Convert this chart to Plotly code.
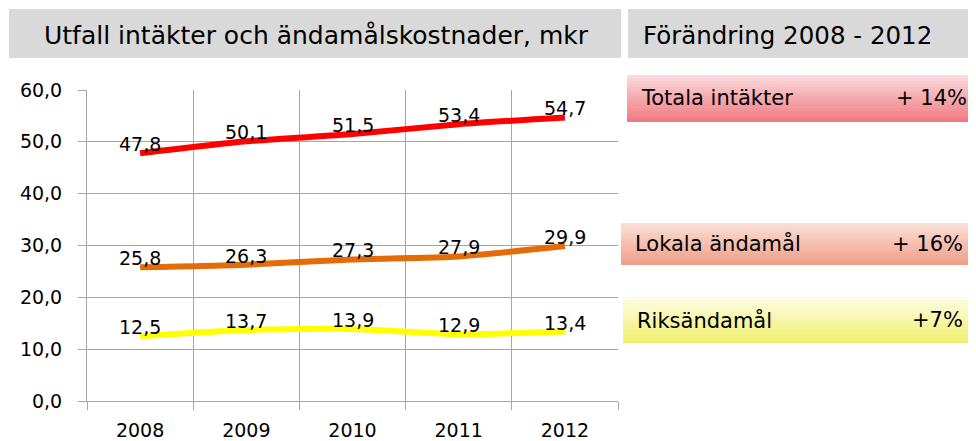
import plotly.graph_objects as go

years = ["2008", "2009", "2010", "2011", "2012"]
totala = [47.8, 50.1, 51.5, 53.4, 54.7]
lokala = [25.8, 26.3, 27.3, 27.9, 29.9]
riks = [12.5, 13.7, 13.9, 12.9, 13.4]
series_names = ["Totala intäkter", "Lokala ändamål", "Riksändamål"]
series_colors = ["#ff0000", "#e36c09", "#ffff00"]
changes = ["+ 14%", "+ 16%", "+7%"]
y_ticks = [0, 10, 20, 30, 40, 50, 60]

# page has an 8px body margin; figure sized so it fills the 976x441 window
OFF = 8
W, H = 976 - OFF, 441 - OFF
PL, PR, PT, PB = 87, 618, 90, 401  # plot area in screen pixels
FONT = "DejaVu Sans"

fig = go.Figure()
xs = list(range(len(years)))
for name, vals, col in zip(series_names, [totala, lokala, riks], series_colors):
    fig.add_trace(go.Scatter(x=xs, y=vals, mode="lines", name=name,
                             line=dict(color=col, width=6, shape="spline", smoothing=0.6),
                             showlegend=False, hoverinfo="skip"))
    for xi, v in zip(xs, vals):
        fig.add_annotation(x=xi, y=v, text=f"{v:.1f}".replace(".", ","), showarrow=False,
                           yshift=9, font=dict(size=19, color="#000000", family=FONT))

def sx(px):
    return (px - PL) / (PR - PL)

def sy(py):
    return 1 - (py - PT) / (PB - PT)

def hexrgb(h):
    h = h.lstrip("#")
    return tuple(int(h[i:i + 2], 16) for i in (0, 2, 4))

def grad_box(x0, x1, y0, y1, ctop, cbot, n=16):
    a, b = hexrgb(ctop), hexrgb(cbot)
    step = (y1 - y0) / n
    for i in range(n):
        t = i / (n - 1)
        c = tuple(round(a[k] + (b[k] - a[k]) * t) for k in range(3))
        fig.add_shape(type="rect", xref="paper", yref="paper",
                      x0=sx(x0), x1=sx(x1),
                      y0=sy(y0 + i * step), y1=sy(min(y1, y0 + (i + 1) * step + 0.5)),
                      fillcolor="rgb(%d,%d,%d)" % c, line=dict(width=0), layer="below")

# header boxes
for (x0, x1) in [(9, 621), (628, 976)]:
    fig.add_shape(type="rect", xref="paper", yref="paper",
                  x0=sx(x0), x1=sx(x1), y0=sy(58), y1=sy(9),
                  fillcolor="#d9d9d9", line=dict(width=0), layer="below")
fig.add_annotation(xref="paper", yref="paper", x=sx(42), y=sy(35),
                   text="Utfall intäkter och ändamålskostnader, mkr", showarrow=False,
                   xanchor="left", yanchor="middle", font=dict(size=25, color="#000", family=FONT))
fig.add_annotation(xref="paper", yref="paper", x=sx(641), y=sy(35),
                   text="Förändring 2008 - 2012", showarrow=False,
                   xanchor="left", yanchor="middle", font=dict(size=24.5, color="#000", family=FONT))

# legend boxes
boxes = [(627, 972, 75, 122, "#fadadc", "#f07880"),
         (621, 968, 223, 265, "#f9ded6", "#f0a088"),
         (623, 968, 297, 343, "#fdfde2", "#f0f070")]
for (x0, x1, y0, y1, ct, cb), name, ch in zip(boxes, series_names, changes):
    grad_box(x0, x1, y0, y1, ct, cb)
    yc = (y0 + y1) / 2
    fig.add_annotation(xref="paper", yref="paper", x=sx(x0 + 12), y=sy(yc),
                       text=name, showarrow=False, xanchor="left", yanchor="middle",
                       font=dict(size=21, color="#000", family=FONT))
    fig.add_annotation(xref="paper", yref="paper", x=sx(x1 - 3), y=sy(yc),
                       text=ch, showarrow=False, xanchor="right", yanchor="middle",
                       font=dict(size=21, color="#000", family=FONT))

grid = "#a6a6a6"
fig.update_layout(
    width=W, height=H, autosize=False,
    margin=dict(l=PL - OFF, r=976 - PR, t=PT - OFF, b=441 - PB, pad=0, autoexpand=False),
    paper_bgcolor="white", plot_bgcolor="white",
    separators=",.",
    font=dict(family=FONT, size=19, color="#000"),
    xaxis=dict(range=[-0.5, 4.5], tickmode="array", tickvals=xs, ticktext=years,
               showgrid=False, ticks="", showline=True, linecolor=grid, linewidth=1,
               zeroline=False, ticklabelstandoff=12, fixedrange=True, automargin=False,
               tickfont=dict(size=19, family=FONT),
               minor=dict(tick0=-0.5, dtick=1, showgrid=True, gridcolor=grid, gridwidth=1,
                          ticks="outside", ticklen=8, tickcolor=grid)),
    yaxis=dict(range=[0, 60], tickmode="array", tickvals=y_ticks, tickformat=".1f",
               showgrid=True, gridcolor=grid, gridwidth=1, ticks="outside", ticklen=8,
               tickcolor=grid, showline=True, linecolor=grid, linewidth=1, zeroline=False,
               ticklabelstandoff=12,
               fixedrange=True, automargin=False, tickfont=dict(size=19, family=FONT)),
)

fig.write_html("out.html")
